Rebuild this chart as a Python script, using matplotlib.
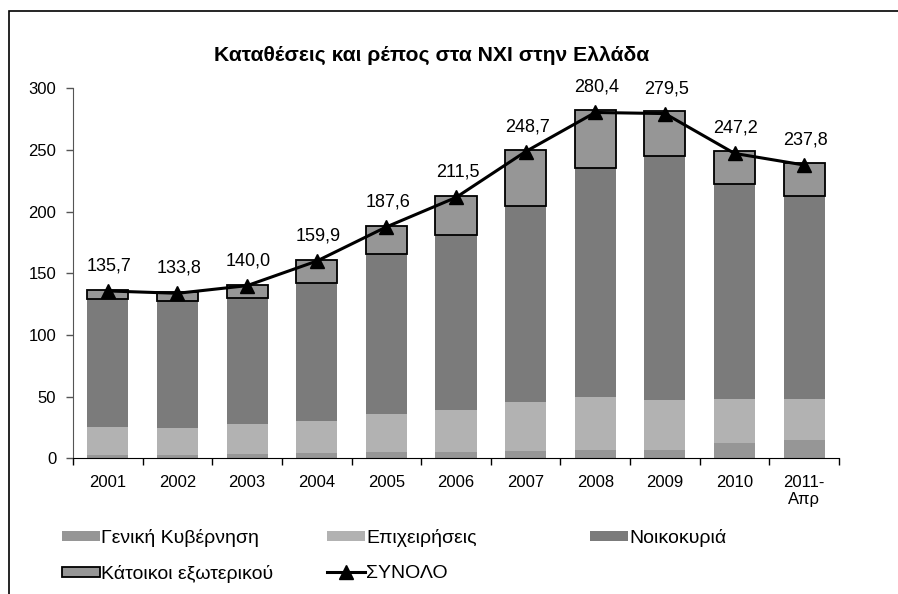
import numpy as np
import matplotlib
matplotlib.use('Agg')
import matplotlib.pyplot as plt
from matplotlib.patches import Patch, Rectangle
from matplotlib.lines import Line2D

plt.rcParams['font.family'] = ['Liberation Sans', 'DejaVu Sans']

# δεδομένα (δισ. ευρώ)
years = ['2001', '2002', '2003', '2004', '2005', '2006', '2007', '2008', '2009', '2010', '2011-\nΑπρ']
gen_gov = [2.8, 2.8, 3.6, 4.5, 5.3, 5.3, 6.1, 6.9, 6.9, 12.6, 15.0]
business = [22.7, 21.9, 24.4, 25.9, 30.8, 34.0, 39.7, 42.9, 40.5, 35.6, 33.2]
households = [103.5, 102.7, 101.8, 112.1, 129.4, 141.6, 158.8, 185.9, 198.0, 174.5, 164.3]
foreign = [7.5, 7.5, 10.8, 18.1, 22.7, 31.6, 45.1, 46.7, 35.9, 26.5, 27.2]
total = [135.7, 133.8, 140.0, 159.9, 187.6, 211.5, 248.7, 280.4, 279.5, 247.2, 237.8]

c_gov = '#969696'
c_bus = '#b2b2b2'
c_hh = '#7b7b7b'
c_for = '#969696'

fig = plt.figure(figsize=(8.98, 5.94), dpi=100)
ax = fig.add_axes([73 / 898, 1 - 458.3 / 594, (839 - 73) / 898, (458.3 - 88.3) / 594])

x = np.arange(len(years))
w = 0.59
b1 = np.array(gen_gov)
b2 = b1 + np.array(business)
b3 = b2 + np.array(households)
ax.bar(x, gen_gov, w, color=c_gov, zorder=2)
ax.bar(x, business, w, bottom=b1, color=c_bus, zorder=2)
ax.bar(x, households, w, bottom=b2, color=c_hh, zorder=2)
ax.bar(x, foreign, w, bottom=b3, color=c_for, edgecolor='black', linewidth=1.3, zorder=2)
ax.plot(x, total, color='black', lw=2.2, marker='^', markersize=10, zorder=3)

for xi, t in zip(x, total):
    ax.annotate(('%.1f' % t).replace('.', ','), (xi, t), xytext=(1, 18), textcoords='offset points',
                ha='center', va='center', fontsize=13)

ax.set_xlim(-0.5, len(years) - 0.5)
ax.set_ylim(0, 300)
ax.set_yticks(range(0, 301, 50))
ax.tick_params(axis='y', labelsize=12, length=5, width=1, color='#555555', pad=7)
ax.set_xticks(x)
ax.set_xticklabels(years, fontsize=12, linespacing=1.2)
ax.set_xticks(np.arange(-0.5, len(years)), minor=True)
ax.tick_params(axis='x', which='major', length=0, pad=12)
ax.tick_params(axis='x', which='minor', length=5, width=1, color='black')
for s in ['top', 'right']:
    ax.spines[s].set_visible(False)
ax.spines['left'].set_color('#555555')
ax.spines['bottom'].set_color('black')

fig.text(432 / 898, 1 - 55 / 594, 'Καταθέσεις και ρέπος στα ΝΧΙ στην Ελλάδα',
         ha='center', va='center', fontsize=15.2, fontweight='bold')

# υπόμνημα
items = [
    (Patch(facecolor=c_gov), 'Γενική Κυβέρνηση', 62, 538),
    (Patch(facecolor=c_bus), 'Επιχειρήσεις', 327, 538),
    (Patch(facecolor=c_hh), 'Νοικοκυριά', 590, 538),
    (Patch(facecolor=c_for, edgecolor='black', linewidth=1.3), 'Κάτοικοι εξωτερικού', 62, 574),
    (Line2D([], [], color='black', lw=2.2, marker='^', markersize=10), 'ΣΥΝΟΛΟ', 327, 574),
]
for h, lab, px, py in items:
    fig.legend([h], [lab], loc='center left', bbox_to_anchor=(px / 898, 1 - py / 594),
               frameon=False, fontsize=14, handlelength=1.96, handleheight=0.44,
               handletextpad=0.05, borderpad=0, borderaxespad=0)

fig.patches.append(Rectangle((9 / 898, -0.1), 1.2, 1.1 - 11 / 594, transform=fig.transFigure,
                             fill=False, edgecolor='black', linewidth=1.2))

fig.savefig('out.png', dpi=100)
